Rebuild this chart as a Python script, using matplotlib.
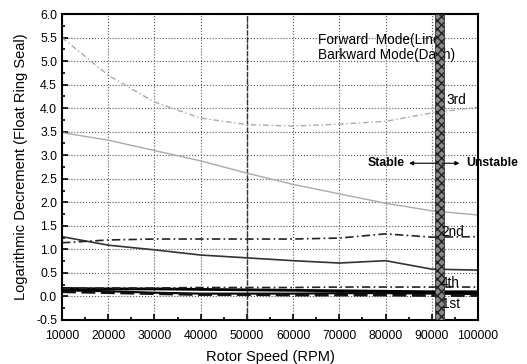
import matplotlib
matplotlib.use("Agg")
import matplotlib.pyplot as plt
import numpy as np

plt.rcParams['font.family'] = ['Liberation Sans', 'DejaVu Sans']

rpm = [10000, 20000, 30000, 40000, 50000, 60000, 70000, 80000, 90000, 100000]

third_fwd = [3.48, 3.32, 3.10, 2.88, 2.62, 2.38, 2.18, 1.98, 1.82, 1.73]
third_bwd = [5.50, 4.70, 4.13, 3.79, 3.65, 3.62, 3.66, 3.72, 3.90, 4.02]
second_fwd = [1.27, 1.09, 0.99, 0.88, 0.82, 0.76, 0.71, 0.76, 0.58, 0.56]
second_bwd = [1.14, 1.20, 1.22, 1.22, 1.22, 1.22, 1.24, 1.33, 1.26, 1.27]
fourth_fwd = [0.17, 0.16, 0.16, 0.15, 0.14, 0.13, 0.12, 0.11, 0.10, 0.10]
fourth_bwd = [0.17, 0.18, 0.18, 0.19, 0.19, 0.19, 0.20, 0.20, 0.20, 0.20]
first_fwd = [0.13, 0.11, 0.08, 0.06, 0.06, 0.06, 0.07, 0.07, 0.06, 0.05]
first_bwd = [0.10, 0.08, 0.06, 0.04, 0.04, 0.03, 0.03, 0.03, 0.02, 0.02]

xticks = [10000, 20000, 30000, 40000, 50000, 60000, 70000, 80000, 90000, 100000]
yticks = [-0.5, 0.0, 0.5, 1.0, 1.5, 2.0, 2.5, 3.0, 3.5, 4.0, 4.5, 5.0, 5.5, 6.0]

fig = plt.figure(figsize=(5.27, 3.64), dpi=100)
ax = fig.add_axes([0.1176, 0.1209, 0.7894, 0.8406])

ax.set_xlim(10000, 100000)
ax.set_ylim(-0.5, 6.0)
ax.set_xticks(xticks)
ax.set_xticklabels([str(v) for v in xticks], fontsize=8.8)
ax.set_yticks(yticks)
ax.set_yticklabels([f"{v:.1f}" for v in yticks], fontsize=8.8)
ax.set_xticks(np.arange(15000, 100000, 10000), minor=True)
ax.set_yticks(np.arange(-0.25, 6.0, 0.5), minor=True)
ax.tick_params(which='both', direction='in', width=1.2)
ax.tick_params(which='major', length=4)
ax.tick_params(which='minor', length=2)
ax.tick_params(axis='x', which='major', pad=7)
ax.grid(True, which='major', linestyle=':', color='#555555', linewidth=0.8)
for s in ax.spines.values():
    s.set_linewidth(1.5)

ax.axvline(50000, color='#333333', linestyle='--', linewidth=1.0, dashes=(4, 1))
ax.axvspan(90600, 92600, facecolor='#888888', edgecolor='#222222', hatch='xxxx', linewidth=0.5, zorder=4)

ax.plot(rpm, third_fwd, color='#aaaaaa', linewidth=1.0)
ax.plot(rpm, third_bwd, color='#aaaaaa', linewidth=1.0, linestyle=(0, (4, 2, 1, 2)))
ax.plot(rpm, second_fwd, color='#333333', linewidth=1.2)
ax.plot(rpm, second_bwd, color='#222222', linewidth=1.2, linestyle=(0, (5, 2, 1, 2)))
ax.plot(rpm, fourth_fwd, color='black', linewidth=2.0)
ax.plot(rpm, fourth_bwd, color='#222222', linewidth=1.2, linestyle=(0, (5, 2, 1, 2)))
ax.plot(rpm, first_fwd, color='black', linewidth=1.5)
ax.plot(rpm, first_bwd, color='#111111', linewidth=2.0, linestyle=(0, (5, 2)))

ax.text(65400, 5.45, "Forward  Mode(Line)", fontsize=9.8, va='center')
ax.text(65400, 5.12, "Barkward Mode(Dash)", fontsize=9.8, va='center')
ax.text(93200, 4.17, "3rd", fontsize=9.8, va='center', zorder=5)
ax.text(92000, 1.37, "2nd", fontsize=9.8, va='center', zorder=5)
ax.text(92000, 0.28, "4th", fontsize=9.8, va='center', zorder=5)
ax.text(92200, -0.16, "1st", fontsize=9.8, va='center', zorder=5)

ax.annotate("", xy=(84500, 2.83), xytext=(91600, 2.83),
            arrowprops=dict(arrowstyle='-|>', color='black', lw=0.8, mutation_scale=6), zorder=6)
ax.annotate("", xy=(96600, 2.83), xytext=(91600, 2.83),
            arrowprops=dict(arrowstyle='-|>', color='black', lw=0.8, mutation_scale=6), zorder=6)
ax.text(84200, 2.83, "Stable", fontsize=8.8, fontweight='bold', ha='right', va='center')
ax.text(97500, 2.83, "Unstable", fontsize=8.8, fontweight='bold', ha='left', va='center', clip_on=False)

ax.set_xlabel("Rotor Speed (RPM)", fontsize=10.5, labelpad=6)
ax.set_ylabel("Logarithmic Decrement (Float Ring Seal)", fontsize=10.5, labelpad=6)

fig.savefig("out.png", dpi=100)
